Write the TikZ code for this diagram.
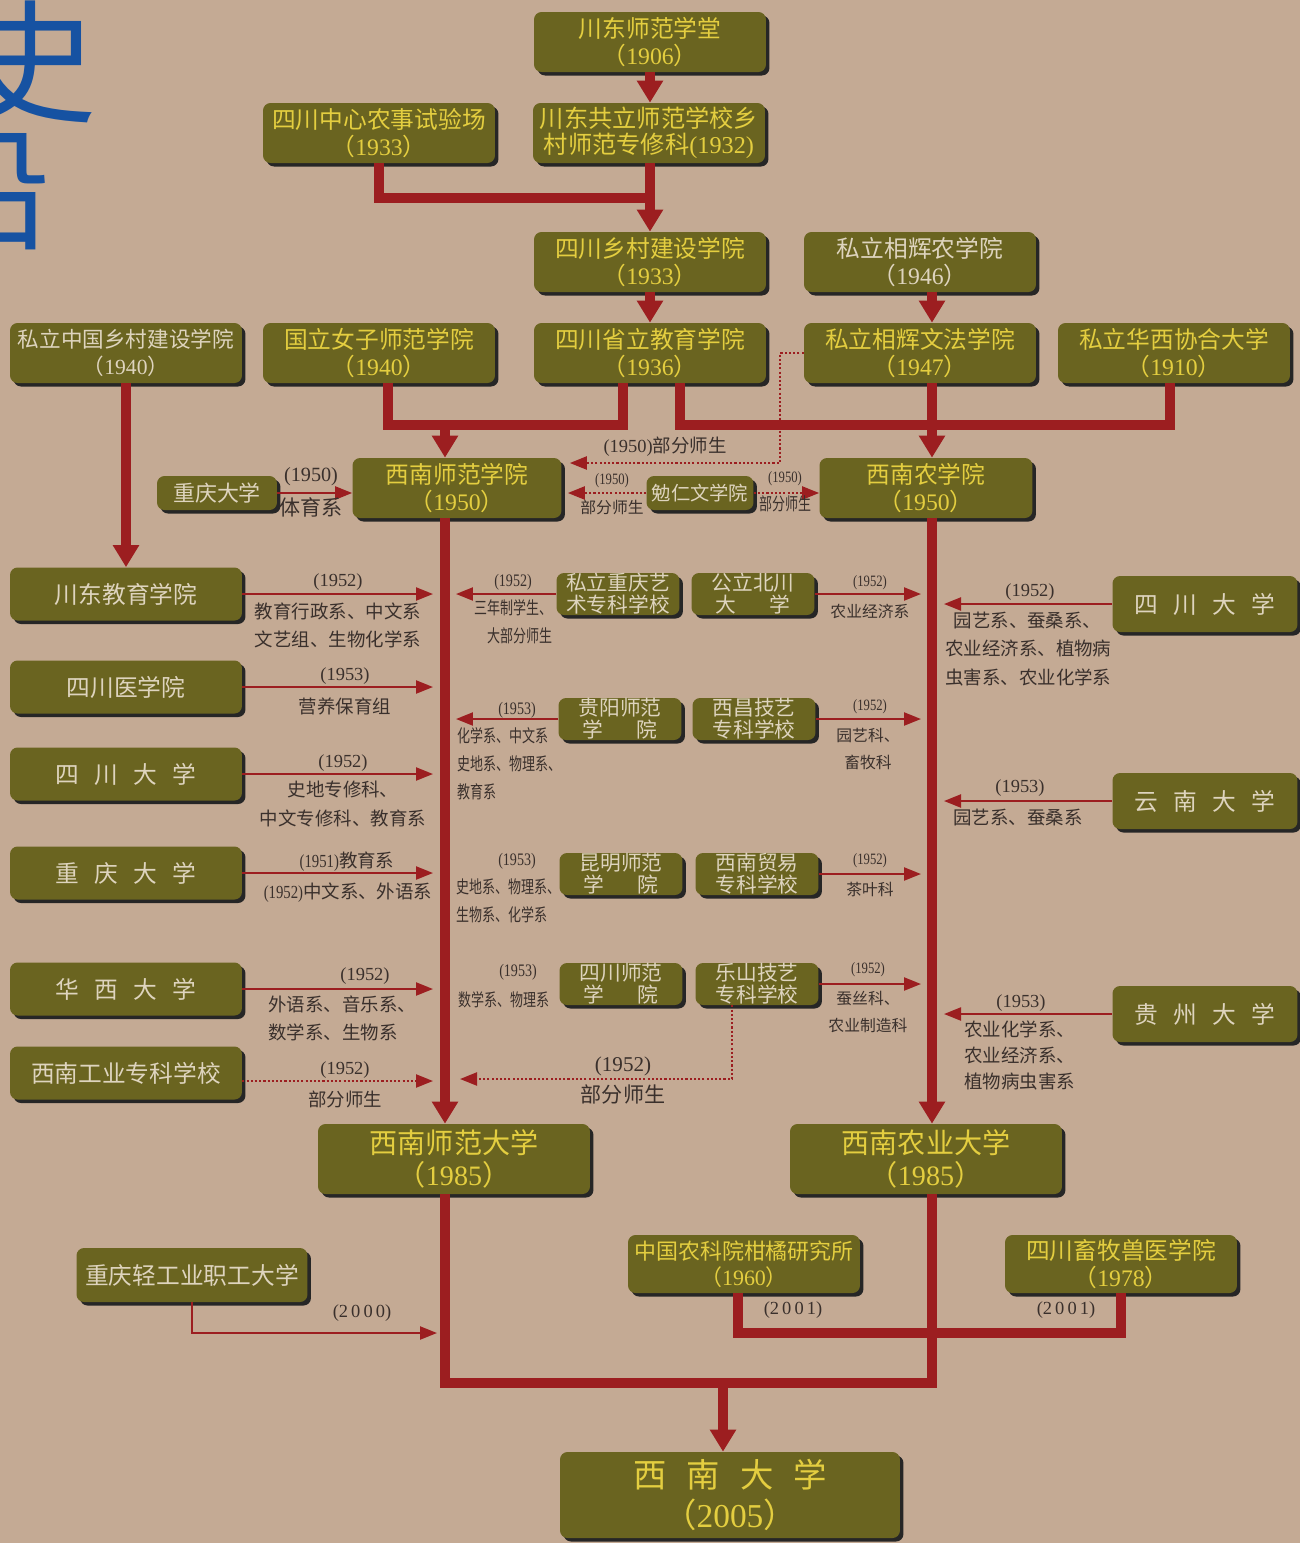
\documentclass[tikz,border=0pt]{standalone}
\usepackage{fontspec}
\setmainfont{Liberation Serif}
\newfontfamily\cjk{Noto Sans CJK SC}
\newfontfamily\cjkn[FakeStretch=0.74]{Noto Sans CJK SC}
\newfontfamily\rmn[FakeStretch=0.8]{Liberation Serif}
\usepackage{tikz}
\usetikzlibrary{arrows.meta,shadows}

\definecolor{paper}{RGB}{196,170,148}
\definecolor{boxolive}{RGB}{106,100,32}
\definecolor{boxyellow}{RGB}{228,206,64}
\definecolor{boxpale}{RGB}{222,212,190}
\definecolor{linered}{RGB}{156,30,32}
\definecolor{labgray}{RGB}{58,48,44}
\definecolor{titleblue}{RGB}{22,82,162}

\newcommand{\yr}[1]{{\rmfamily(#1)}}
\newcommand{\yrn}[1]{{\rmn(#1)}}
\newcommand{\byr}[1]{（{\rmfamily #1}）}
\newcommand{\cgap}{\hspace{0.65em}}

\begin{document}
\begin{tikzpicture}[x=0.02cm, y=-0.02cm,
    unibox/.style={fill=boxolive, rounded corners=0.15cm, align=center, inner sep=0pt,
        drop shadow={shadow xshift=0.07cm, shadow yshift=-0.07cm, opacity=1, fill=black!85},
        text=boxyellow, font=\cjk\fontsize{13.5}{15}\selectfont,
        minimum width=4.64cm, minimum height=1.2cm},
    pale/.style={text=boxpale},
    colbox/.style={minimum height=1.06cm},
    midbox/.style={minimum width=2.46cm, minimum height=0.84cm, font=\cjk\fontsize{11.8}{12.5}\selectfont},
    bigbox/.style={minimum width=5.44cm, minimum height=1.4cm, font=\cjk\fontsize{16}{18}\selectfont},
    trunk/.style={draw=linered, line width=0.2cm},
    trunkarrow/.style={trunk, -{Triangle[width=0.5cm,length=0.44cm]}},
    feed/.style={draw=linered, line width=0.045cm, -{Triangle[width=0.26cm,length=0.34cm]}},
    dotfeed/.style={feed, dash pattern=on 1.2pt off 1.2pt},
    lab/.style={text=labgray, align=center, inner sep=0pt, font=\cjk\fontsize{10.5}{16}\selectfont},
    labn/.style={lab, font=\cjkn\fontsize{10}{15.8}\selectfont},
    labs/.style={lab, font=\cjk\fontsize{9}{15.8}\selectfont}]

    \useasboundingbox (0,0) rectangle (1300,1543);
    \clip (0,0) rectangle (1300,1543);
    \fill[paper] (0,0) rectangle (1300,1543);

    % title (cut at the left edge)
    \node[text=titleblue, font=\cjk\fontsize{76}{76}\selectfont] (ttl1) at (30,62) {史};
    \node[text=titleblue, font=\cjk\fontsize{76}{76}\selectfont] (ttl2) at (-15,190) {沿};

    % before 1950
    \node[unibox] (cdxt) at (650,42) {川东师范学堂\\\byr{1906}};
    \node[unibox] (zxnc) at (379,133) {四川中心农事试验场\\\byr{1933}};
    \node[unibox, font=\cjk\fontsize{13.8}{15}\selectfont] (gongli) at (649,133) {川东共立师范学校乡\\村师范专修科\yr{1932}};
    \node[unibox] (xcjs) at (650,262) {四川乡村建设学院\\\byr{1933}};
    \node[unibox, pale] (xhnx) at (920,262) {私立相辉农学院\\\byr{1946}};
    \node[unibox, pale, font=\cjk\fontsize{12.3}{15}\selectfont] (zgxc) at (126,353) {私立中国乡村建设学院\\\byr{1940}};
    \node[unibox] (nvzi) at (379,353) {国立女子师范学院\\\byr{1940}};
    \node[unibox] (jyxy) at (650,353) {四川省立教育学院\\\byr{1936}};
    \node[unibox] (xhwf) at (920,353) {私立相辉文法学院\\\byr{1947}};
    \node[unibox] (hxxh) at (1174,353) {私立华西协合大学\\\byr{1910}};

    % 1950
    \node[unibox, minimum width=4.18cm] (xnsf) at (457,488) {西南师范学院\\\byr{1950}};
    \node[unibox, minimum width=4.26cm] (xnny) at (926,488) {西南农学院\\\byr{1950}};
    \node[unibox, pale, minimum width=2.4cm, minimum height=0.68cm, font=\cjk\fontsize{12.5}{13}\selectfont] (cqdx1) at (217,493) {重庆大学};
    \node[unibox, pale, minimum width=2.14cm, minimum height=0.68cm, font=\cjk\fontsize{11}{12}\selectfont] (mrwx) at (700,493) {勉仁文学院};

    % schools merged in 1951-1953
    \foreach \yy/\nm/\txt in {594/cdjy/川东教育学院, 687/scyx/四川医学院,
        774/scdx1/{四\cgap 川\cgap 大\cgap 学}, 873/cqdx2/{重\cgap 庆\cgap 大\cgap 学},
        989/hxdx/{华\cgap 西\cgap 大\cgap 学}, 1073/xngy/西南工业专科学校}
        \node[unibox, colbox, pale] (\nm) at (126,\yy) {\txt};

    \node[unibox, midbox, pale] (cqys) at (618,594) {私立重庆艺\\术专科学校};
    \node[unibox, midbox, pale] (bcdx) at (753,594) {公立北川\\大\hspace{1.6em}学};
    \node[unibox, midbox, pale] (gysf) at (620,719) {贵阳师范\\学\hspace{1.6em}院};
    \node[unibox, midbox, pale] (xcjy) at (754,719) {西昌技艺\\专科学校};
    \node[unibox, midbox, pale] (kmsf) at (621,874) {昆明师范\\学\hspace{1.6em}院};
    \node[unibox, midbox, pale] (xnmy) at (757,874) {西南贸易\\专科学校};
    \node[unibox, midbox, pale] (scsf) at (621,984) {四川师范\\学\hspace{1.6em}院};
    \node[unibox, midbox, pale] (lsjy) at (757,984) {乐山技艺\\专科学校};

    \foreach \yy/\nm/\txt in {604/scdx2/{四\cgap 川\cgap 大\cgap 学},
        801/yndx/{云\cgap 南\cgap 大\cgap 学}, 1014/gzdx/{贵\cgap 州\cgap 大\cgap 学}}
        \node[unibox, pale, minimum width=3.7cm, minimum height=1.12cm] (\nm) at (1205,\yy) {\txt};

    % 1985 and after
    \node[unibox, bigbox] (xnsfdx) at (454,1159) {西南师范大学\\\byr{1985}};
    \node[unibox, bigbox] (xnnydx) at (926,1159) {西南农业大学\\\byr{1985}};
    \node[unibox, pale, minimum width=4.62cm, minimum height=1.08cm] (qggy) at (192,1275) {重庆轻工业职工大学};
    \node[unibox, minimum height=1.16cm, font=\cjk\fontsize{12.5}{15}\selectfont] (ganju) at (744,1264) {中国农科院柑橘研究所\\\byr{1960}};
    \node[unibox, minimum height=1.16cm] (xumu) at (1121,1264) {四川畜牧兽医学院\\\byr{1978}};
    \node[unibox, minimum width=6.8cm, minimum height=1.72cm, font=\cjk\fontsize{19}{23}\selectfont] (xndx) at (730,1495) {西\hspace{0.6em}南\hspace{0.6em}大\hspace{0.6em}学\\\byr{2005}};

    % junctions and trunk lines
    \coordinate (j1) at (650,198);
    \coordinate (j2) at (445,425);
    \coordinate (j3) at (932,425);
    \coordinate (j4) at (780,463);
    \coordinate (j5) at (723,1383);
    \coordinate (j6) at (935,1333);
    \coordinate (j7) at (437,1333);
    \coordinate (j8) at (460,1079);
    \coordinate (lin) at (433,0);
    \coordinate (lout) at (456,0);
    \coordinate (rin) at (921,0);
    \coordinate (rout) at (944,0);
    \coordinate (xngyo) at ([yshift=-0.16cm]xngy.east);

    \draw[trunkarrow] (cdxt.south) -- (cdxt.south |- gongli.north);
    \draw[trunk] (zxnc.south) |- (j1);
    \draw[trunkarrow] (gongli.south -| j1) -- (j1 |- xcjs.north);
    \draw[trunkarrow] (xcjs.south) -- (jyxy.north);
    \draw[trunkarrow] ([xshift=0.24cm]xhnx.south) -- ([xshift=0.24cm]xhwf.north);
    \draw[trunkarrow] (zgxc.south) -- (cdjy.north);
    \draw[trunk] ([xshift=0.18cm]nvzi.south) |- (j2) -| ([xshift=-0.54cm]jyxy.south);
    \draw[trunk] ([xshift=0.6cm]jyxy.south) |- (j3) -| ([xshift=-0.08cm]hxxh.south);
    \draw[trunk] (xhwf.south -| j3) -- (j3);
    \draw[trunkarrow] (j2) -- (j2 |- xnsf.north);
    \draw[trunkarrow] (j3) -- (j3 |- xnny.north);
    \draw[trunkarrow] (xnsf.south -| j2) -- (j2 |- xnsfdx.north);
    \draw[trunkarrow] (xnny.south -| j3) -- (j3 |- xnnydx.north);
    \draw[trunk] (xnsfdx.south -| j2) |- (j5) -| (xnnydx.south -| j3);
    \draw[trunkarrow] (j5) -- (j5 |- xndx.north);
    \draw[trunk] ([xshift=-0.12cm]ganju.south) |- (j6) -| (xumu.south);

    % thin transfers
    \draw[feed] (cqdx1.east) -- (cqdx1.east -| xnsf.west);
    \draw[dotfeed, shorten >=0.16cm] (xhwf.west) -| (j4) -- (j4 -| xnsf.east);
    \draw[dotfeed, shorten >=0.12cm] (mrwx.west) -- (mrwx.west -| xnsf.east);
    \draw[dotfeed] (mrwx.east) -- (mrwx.east -| xnny.west);
    \foreach \nm in {cdjy,scyx,scdx1,cqdx2,hxdx}
        \draw[feed] (\nm.east) -- (\nm.east -| lin);
    \draw[dotfeed] (xngyo) -- (xngyo -| lin);
    \foreach \nm in {cqys,gysf}
        \draw[feed] (\nm.west) -- (\nm.west -| lout);
    \foreach \nm in {bcdx,xcjy,xnmy,lsjy}
        \draw[feed] (\nm.east) -- (\nm.east -| rin);
    \draw[dotfeed] ([xshift=-0.5cm]lsjy.south) |- (j8);
    \foreach \nm in {scdx2,yndx,gzdx}
        \draw[feed] (\nm.west) -- (\nm.west -| rout);
    \draw[feed] (qggy.south) |- (j7);

    % labels, left side
    \node[lab, font=\cjk\fontsize{11.5}{14}\selectfont] (cqdx1-y) at (311,477) {\yr{1950}};
    \node[lab, font=\cjk\fontsize{12}{14}\selectfont] (cqdx1-d) at (311,507) {体育系};
    \node[lab] (cdjy-y) at (338,582) {\yr{1952}};
    \node[lab] (cdjy-d) at (338,625) {教育行政系、中文系\\文艺组、生物化学系};
    \node[lab] (scyx-y) at (345,676) {\yr{1953}};
    \node[lab] (scyx-d) at (345,706) {营养保育组};
    \node[lab] (scdx1-y) at (343,763) {\yr{1952}};
    \node[lab] (scdx1-d) at (343,804) {史地专修科、\\中文专修科、教育系};
    \node[lab] (cqdx2-y) at (347,862) {\yrn{1951}教育系};
    \node[lab] (cqdx2-d) at (348,893) {\yrn{1952}中文系、外语系};
    \node[lab] (hxdx-y) at (365,976) {\yr{1952}};
    \node[lab, anchor=west, align=left] (hxdx-d) at (268,1018) {外语系、音乐系、\\数学系、生物系};
    \node[lab] (xngy-y) at (345,1070) {\yr{1952}};
    \node[lab] (xngy-d) at (345,1099) {部分师生};

    % labels, middle
    \node[lab] (xhwf-y) at (665,447) {\yr{1950}部分师生};
    \node[labs] (mrwx-ly) at (612,481) {\yrn{1950}};
    \node[labs] (mrwx-ld) at (612,507) {部分师生};
    \node[labs] (mrwx-ry) at (785,479) {\yrn{1950}};
    \node[labn] (mrwx-rd) at (785,504) {部分师生};
    \node[labn] (cqys-y) at (513,582) {\yrn{1952}};
    \node[labn, anchor=east, align=right] (cqys-d) at (553,622) {三年制学生、\\大部分师生};
    \node[labn] (gysf-y) at (517,710) {\yrn{1953}};
    \node[labn, anchor=west, align=left] (gysf-d) at (457,764) {化学系、中文系\\史地系、物理系、\\教育系};
    \node[labn] (kmsf-y) at (517,861) {\yrn{1953}};
    \node[labn, anchor=west, align=left] (kmsf-d) at (456,901) {史地系、物理系、\\生物系、化学系};
    \node[labn] (scsf-y) at (518,972) {\yrn{1953}};
    \node[labn, anchor=west] (scsf-d) at (458,1000) {数学系、物理系};
    \node[labs] (bcdx-y) at (870,583) {\yrn{1952}};
    \node[labs] (bcdx-d) at (870,611) {农业经济系};
    \node[labs] (xcjy-y) at (870,707) {\yrn{1952}};
    \node[labs] (xcjy-d) at (868,749) {园艺科、\\畜牧科};
    \node[labs] (xnmy-y) at (870,861) {\yrn{1952}};
    \node[labs] (xnmy-d) at (870,889) {茶叶科};
    \node[labs] (lsjy-y) at (868,970) {\yrn{1952}};
    \node[labs] (lsjy-d) at (868,1012) {蚕丝科、\\农业制造科};
    \node[lab, font=\cjk\fontsize{12}{14}\selectfont] (lsjy-dy) at (623,1066) {\yr{1952}};
    \node[lab, font=\cjk\fontsize{12}{14}\selectfont] (lsjy-dd) at (623,1094) {部分师生};

    % labels, right side
    \node[lab] (scdx2-y) at (1030,592) {\yr{1952}};
    \node[lab, anchor=west, align=left] (scdx2-d) at (945,649) {\hspace{0.45em}园艺系、蚕桑系、\\农业经济系、植物病\\虫害系、农业化学系};
    \node[lab] (yndx-y) at (1020,788) {\yr{1953}};
    \node[lab, anchor=west] (yndx-d) at (953,817) {园艺系、蚕桑系};
    \node[lab] (gzdx-y) at (1021,1003) {\yr{1953}};
    \node[lab, anchor=west, align=left, font=\cjk\fontsize{10.5}{14.8}\selectfont] (gzdx-d) at (964,1055) {农业化学系、\\农业经济系、\\植物病虫害系};

    % labels, bottom
    \node[lab] (qggy-y) at (362,1313) {\yr{2\,0\,0\,0}};
    \node[lab] (ganju-y) at (793,1310) {\yr{2\,0\,0\,1}};
    \node[lab] (xumu-y) at (1066,1310) {\yr{2\,0\,0\,1}};
\end{tikzpicture}
\end{document}
